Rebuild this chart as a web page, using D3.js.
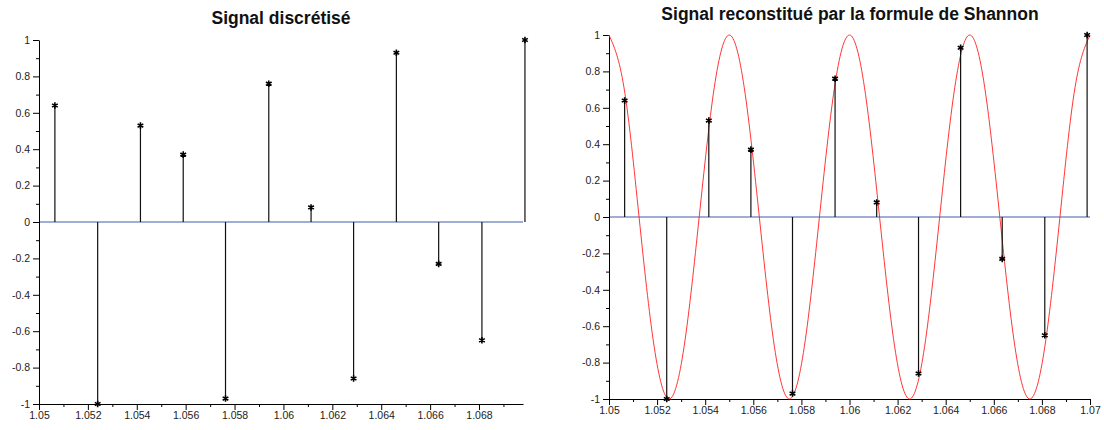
<!DOCTYPE html>
<html>
<head>
<meta charset="utf-8">
<script src="https://cdn.jsdelivr.net/npm/d3@7"></script>
<style>
  body { margin: 0; background: #fff; }
  svg { display: block; }
  text { font-family: "Liberation Sans", Arial, sans-serif; }
</style>
</head>
<body>
<svg id="chart" width="1104" height="430"></svg>
<script>
// ---- data ----
const sampleTimes  = [1.05065, 1.0524, 1.05415, 1.0559, 1.05763, 1.0594, 1.06113, 1.06287, 1.06462, 1.06635, 1.06812, 1.06988];
const sampleValues = [0.64, -1.0, 0.53, 0.37, -0.97, 0.76, 0.08, -0.86, 0.93, -0.23, -0.65, 1.0];

// reconstructed curve (Shannon), read at 1/8-period steps
const curveTimes  = [1.05, 1.050625, 1.05125, 1.051875, 1.0525, 1.053125, 1.05375, 1.054375,
                     1.055, 1.055625, 1.05625, 1.056875, 1.0575, 1.058125, 1.05875, 1.059375,
                     1.06, 1.060625, 1.06125, 1.061875, 1.0625, 1.063125, 1.06375, 1.064375,
                     1.065, 1.065625, 1.06625, 1.066875, 1.0675, 1.068125, 1.06875, 1.069375, 1.07];
const curveValues = [1.0, 0.71, 0.0, -0.71, -1.0, -0.71, 0.0, 0.71,
                     1.0, 0.71, 0.0, -0.71, -1.0, -0.71, 0.0, 0.71,
                     1.0, 0.71, 0.0, -0.71, -1.0, -0.71, 0.0, 0.71,
                     1.0, 0.71, 0.0, -0.71, -1.0, -0.71, 0.0, 0.71, 1.0];

const xTicksMajor = [1.05, 1.052, 1.054, 1.056, 1.058, 1.06, 1.062, 1.064, 1.066, 1.068, 1.07];
const xTickLabels = ["1.05", "1.052", "1.054", "1.056", "1.058", "1.06", "1.062", "1.064", "1.066", "1.068", "1.07"];
const xTicksMinor = [1.051, 1.053, 1.055, 1.057, 1.059, 1.061, 1.063, 1.065, 1.067, 1.069];
const yTicksMajor = [-1, -0.8, -0.6, -0.4, -0.2, 0, 0.2, 0.4, 0.6, 0.8, 1];
const yTickLabels = ["-1", "-0.8", "-0.6", "-0.4", "-0.2", "0", "0.2", "0.4", "0.6", "0.8", "1"];
const yTicksMinor = [-0.9, -0.7, -0.5, -0.3, -0.1, 0.1, 0.3, 0.5, 0.7, 0.9];

const titles = ["Signal discrétisé", "Signal reconstitué par la formule de Shannon"];

// ---- drawing ----
const svg = d3.select("#chart");
const zeroColor = "#8193c8";
const textColor = "#222";

function drawPanel(cfg) {
  const x = d3.scaleLinear().domain(cfg.xDomain).range(cfg.xRange);
  const y = d3.scaleLinear().domain([-1, 1]).range(cfg.yRange);
  const g = svg.append("g");

  // title
  g.append("text")
    .attr("x", cfg.titleX).attr("y", cfg.titleY)
    .attr("text-anchor", "middle")
    .attr("font-size", 17.5)
    .attr("font-weight", "bold")
    .attr("fill", "#111")
    .text(cfg.title);

  // zero line
  g.append("line")
    .attr("x1", x(cfg.xDomain[0])).attr("x2", x(cfg.xDomain[1]))
    .attr("y1", y(0)).attr("y2", y(0))
    .attr("stroke", zeroColor).attr("stroke-width", 1.3);

  // x axis
  const xMaj = xTicksMajor.filter(v => v <= cfg.xDomain[1] + 1e-9);
  const xLab = xTickLabels.filter((_, i) => xTicksMajor[i] <= cfg.xDomain[1] + 1e-9);
  const xAxis = d3.axisBottom(x).tickValues(xMaj).tickFormat((d, i) => xLab[i]).tickSize(6).tickSizeOuter(0).tickPadding(2);
  const gx = g.append("g").attr("transform", `translate(0,${y(-1)})`).call(xAxis);
  gx.selectAll("line").attr("stroke", "#000");
  gx.select(".domain").attr("stroke", "#000");
  gx.selectAll("text").attr("font-size", 10.5).attr("fill", textColor)
    .attr("font-family", "'Liberation Sans', Arial, sans-serif");
  const xMin = xTicksMinor.filter(v => v <= cfg.xDomain[1]);
  const xAxisMinor = d3.axisBottom(x).tickValues(xMin).tickFormat("").tickSize(3).tickSizeOuter(0);
  const gxm = g.append("g").attr("transform", `translate(0,${y(-1)})`).call(xAxisMinor);
  gxm.select(".domain").remove();
  gxm.selectAll("line").attr("stroke", "#000");

  // y axis
  const yAxis = d3.axisLeft(y).tickValues(yTicksMajor).tickFormat((d, i) => yTickLabels[i]).tickSize(6).tickSizeOuter(0).tickPadding(3);
  const gy = g.append("g").attr("transform", `translate(${x(cfg.xDomain[0])},0)`).call(yAxis);
  gy.selectAll("line").attr("stroke", "#000");
  gy.select(".domain").attr("stroke", "#000");
  gy.selectAll("text").attr("font-size", 10.5).attr("fill", textColor)
    .attr("font-family", "'Liberation Sans', Arial, sans-serif");
  const yAxisMinor = d3.axisLeft(y).tickValues(yTicksMinor).tickFormat("").tickSize(3).tickSizeOuter(0);
  const gym = g.append("g").attr("transform", `translate(${x(cfg.xDomain[0])},0)`).call(yAxisMinor);
  gym.select(".domain").remove();
  gym.selectAll("line").attr("stroke", "#000");

  // red reconstruction curve
  if (cfg.showCurve) {
    const pts = curveTimes.map((t, i) => [t, curveValues[i]]);
    g.append("path")
      .datum(pts)
      .attr("fill", "none")
      .attr("stroke", "#ff2020")
      .attr("stroke-width", 0.9)
      .attr("d", d3.line().x(d => x(d[0])).y(d => y(d[1])).curve(d3.curveNatural));
  }

  // stems
  const samples = sampleTimes.map((t, i) => ({ t, v: sampleValues[i] }));
  g.selectAll(".stem").data(samples).join("line")
    .attr("x1", d => x(d.t)).attr("x2", d => x(d.t))
    .attr("y1", y(0)).attr("y2", d => y(d.v))
    .attr("stroke", "#111").attr("stroke-width", 1.2);

  // asterisk markers
  g.selectAll(".mk").data(samples).join("path")
    .attr("transform", d => `translate(${x(d.t)},${y(d.v)})`)
    .attr("d", d3.symbol(d3.symbolAsterisk, 30)())
    .attr("fill", "none").attr("stroke", "#000").attr("stroke-width", 1.6);
}

drawPanel({
  xDomain: [1.05, 1.0698], xRange: [39, 523], yRange: [404, 40],
  title: titles[0], titleX: 281, titleY: 24, showCurve: false
});
drawPanel({
  xDomain: [1.05, 1.07], xRange: [609, 1090], yRange: [399, 35],
  title: titles[1], titleX: 850, titleY: 20, showCurve: true
});
</script>
</body>
</html>
